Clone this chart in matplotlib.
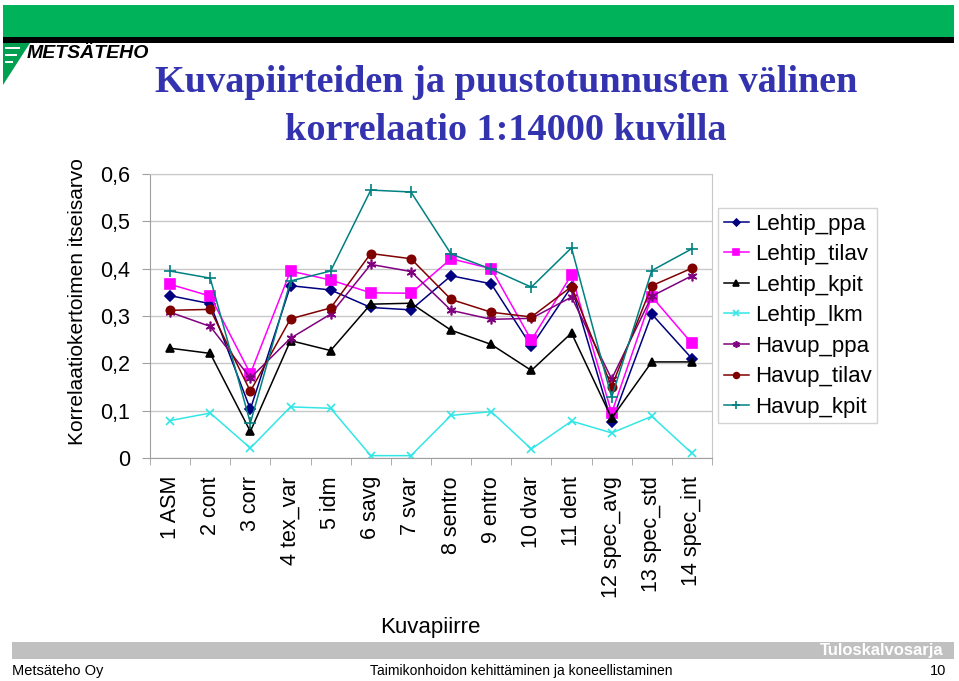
import matplotlib
matplotlib.use('Agg')
import matplotlib.pyplot as plt
from matplotlib.patches import Rectangle, Polygon

categories = ['1 ASM', '2 cont', '3 corr', '4 tex_var', '5 idm', '6 savg', '7 svar',
              '8 sentro', '9 entro', '10 dvar', '11 dent', '12 spec_avg',
              '13 spec_std', '14 spec_int']

lehtip_ppa = [0.343, 0.326, 0.103, 0.364, 0.355, 0.318, 0.313,
              0.385, 0.368, 0.236, 0.362, 0.076, 0.304, 0.210]
lehtip_tilav = [0.367, 0.342, 0.178, 0.395, 0.376, 0.349, 0.348,
                0.421, 0.400, 0.249, 0.387, 0.095, 0.341, 0.242]
lehtip_kpit = [0.232, 0.221, 0.056, 0.248, 0.227, 0.325, 0.327,
               0.270, 0.240, 0.185, 0.264, 0.084, 0.203, 0.203]
lehtip_lkm = [0.079, 0.095, 0.021, 0.108, 0.105, 0.005, 0.005,
              0.090, 0.098, 0.019, 0.078, 0.053, 0.088, 0.010]
havup_ppa = [0.308, 0.278, 0.169, 0.253, 0.304, 0.409, 0.394,
             0.312, 0.293, 0.295, 0.340, 0.167, 0.342, 0.385]
havup_tilav = [0.312, 0.314, 0.141, 0.294, 0.317, 0.432, 0.421,
               0.335, 0.308, 0.298, 0.362, 0.151, 0.364, 0.401]
havup_kpit = [0.395, 0.380, 0.074, 0.374, 0.395, 0.566, 0.562,
              0.431, 0.399, 0.361, 0.444, 0.128, 0.396, 0.442]

series = [
    ('Lehtip_ppa', lehtip_ppa, '#000080', 'D', 5),
    ('Lehtip_tilav', lehtip_tilav, '#ff00ff', 's', 7),
    ('Lehtip_kpit', lehtip_kpit, 'black', '^', 6),
    ('Lehtip_lkm', lehtip_lkm, '#33e6e6', 'x', 6),
    ('Havup_ppa', havup_ppa, '#800080', (6, 2, 0), 7),
    ('Havup_tilav', havup_tilav, '#800000', 'o', 6),
    ('Havup_kpit', havup_kpit, '#008080', '+', 8),
]

W, H = 959, 681
plt.rcParams['font.family'] = ['Liberation Sans', 'DejaVu Sans']
fig = plt.figure(figsize=(W / 100, H / 100), dpi=100)


def fx(px):
    return px / W


def fy(py):
    return 1 - py / H


# header: green bar, black line, logo
fig.patches.append(Rectangle((fx(3), fy(37)), fx(951), 32 / H, transform=fig.transFigure,
                             facecolor='#00b35a', edgecolor='none'))
fig.patches.append(Rectangle((fx(3), fy(43)), fx(951), 6 / H, transform=fig.transFigure,
                             facecolor='black', edgecolor='none'))
fig.patches.append(Polygon([(fx(3), fy(43)), (fx(30), fy(43)), (fx(3), fy(85))],
                           closed=True, transform=fig.transFigure,
                           facecolor='#00a050', edgecolor='none'))
for yy, x1 in [(47, 20), (54, 17), (61, 13)]:
    fig.patches.append(Rectangle((fx(5), fy(yy + 2)), fx(x1 - 5), 2 / H,
                                 transform=fig.transFigure, facecolor='white',
                                 edgecolor='none'))
fig.text(fx(27), fy(53), 'METSÄTEHO', fontsize=14, fontweight='bold',
         fontstyle='italic', color='black', ha='left', va='center')

# title
title_kw = dict(family='Liberation Serif', fontweight='bold', fontsize=27.5,
                color='#3333b0', ha='center', va='baseline')
fig.text(fx(506), fy(92), 'Kuvapiirteiden ja puustotunnusten välinen', **title_kw)
fig.text(fx(506), fy(140), 'korrelaatio 1:14000 kuvilla', **title_kw)

# chart
ax = fig.add_axes([fx(150), fy(458), 562 / W, 284 / H])
x = [i + 0.5 for i in range(len(categories))]
for name, vals, col, mk, ms in series:
    ax.plot(x, vals, color=col, marker=mk, markersize=ms, linewidth=1.1,
            markeredgecolor=col, markerfacecolor=col, markeredgewidth=1.2,
            label=name)

ax.set_xlim(0, len(categories))
ax.set_ylim(0, 0.6)
ax.set_yticks([0, 0.1, 0.2, 0.3, 0.4, 0.5, 0.6])
ax.set_yticklabels(['0', '0,1', '0,2', '0,3', '0,4', '0,5', '0,6'])
ax.set_xticks(x)
ax.set_xticklabels(categories, rotation=90, ha='center', va='top')
ax.set_xticks(range(len(categories) + 1), minor=True)
ax.tick_params(axis='x', which='major', length=0, pad=13, labelsize=15.5)
ax.tick_params(axis='x', which='minor', length=5, color='#a0a0a0')
ax.tick_params(axis='y', length=6, color='#a0a0a0', pad=8.5, labelsize=15.5)
ax.grid(axis='y', color='#c8c8c8', linewidth=1)
ax.set_axisbelow(True)
for sp in ax.spines.values():
    sp.set_color('#c8c8c8')
ax.spines['left'].set_color('#a0a0a0')
ax.spines['bottom'].set_color('#a0a0a0')

fig.text(fx(78), fy(302), 'Korrelaatiokertoimen itseisarvo', rotation=90,
         fontsize=15, ha='center', va='center')
fig.text(fx(430), fy(628), 'Kuvapiirre', fontsize=16, ha='center', va='center')

leg = ax.legend(loc='upper left', bbox_to_anchor=(fx(718), fy(208)),
                bbox_transform=fig.transFigure, borderaxespad=0, fontsize=16,
                frameon=True, fancybox=False, handlelength=1.15,
                handletextpad=0.25, labelspacing=0.43, borderpad=0.25)
leg.get_frame().set_edgecolor('#c8c8c8')
leg.get_frame().set_linewidth(1)
for h in leg.legend_handles:
    h.set_markersize(h.get_markersize() * 0.7)

# footer
fig.patches.append(Rectangle((fx(12), fy(659)), fx(942), 17 / H, transform=fig.transFigure,
                             facecolor='#c0c0c0', edgecolor='none'))
fig.text(fx(944), fy(650), 'Tuloskalvosarja', color='white', fontweight='bold',
         fontsize=12, ha='right', va='center')
fig.text(fx(12), fy(671), 'Metsäteho Oy', fontsize=10.5, ha='left', va='center')
fig.text(fx(521), fy(671), 'Taimikonhoidon kehittäminen ja koneellistaminen',
         fontsize=10, ha='center', va='center')
fig.text(fx(946), fy(671), '10', fontsize=10.5, ha='right', va='center')

fig.savefig('out.png', dpi=100)
